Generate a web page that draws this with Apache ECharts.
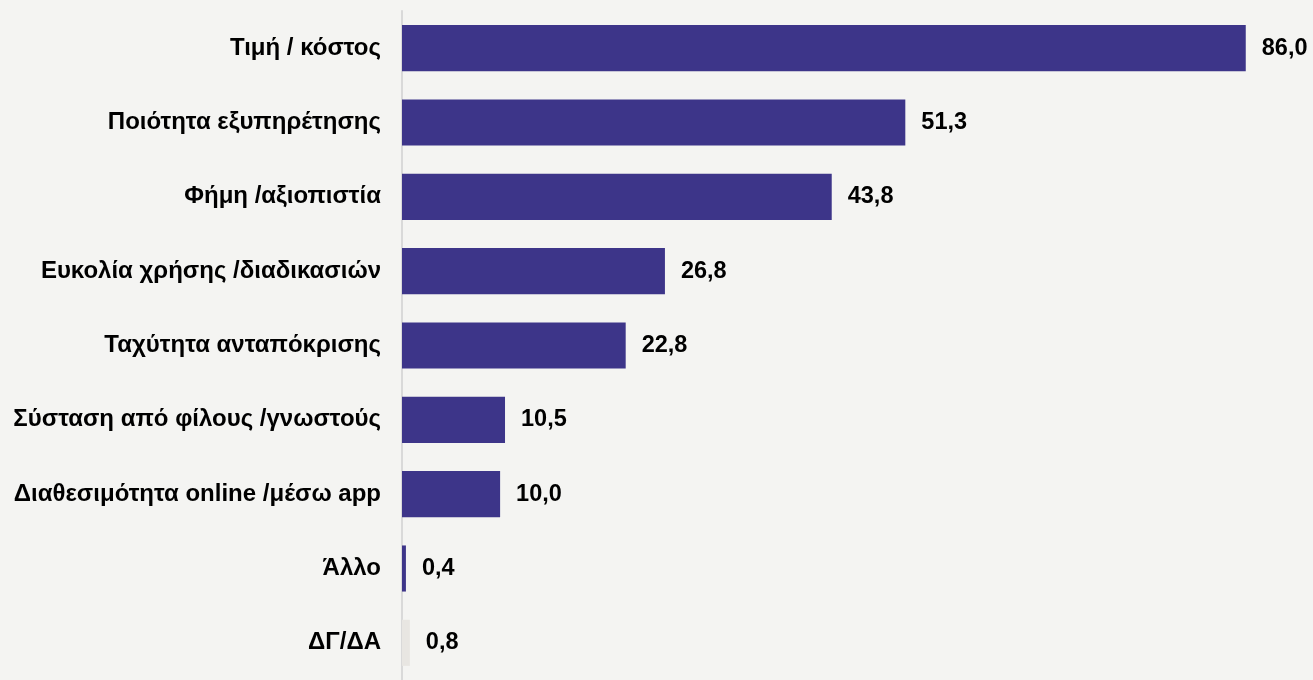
<!DOCTYPE html>
<html>
<head>
<meta charset="utf-8">
<script src="https://cdn.jsdelivr.net/npm/echarts@6/dist/echarts.min.js"></script>
<style>
html,body{margin:0;padding:0;background:#f4f4f2;}
#c{width:1313px;height:680px;}
</style>
</head>
<body>
<div id="c"></div>
<script>
const categories = ["Τιμή / κόστος","Ποιότητα εξυπηρέτησης","Φήμη /αξιοπιστία","Ευκολία χρήσης /διαδικασιών","Ταχύτητα ανταπόκρισης","Σύσταση από φίλους /γνωστούς","Διαθεσιμότητα online /μέσω app","Άλλο","ΔΓ/ΔΑ"];
const values = [86.0, 51.3, 43.8, 26.8, 22.8, 10.5, 10.0, 0.4, 0.8];
const barColors = ["#3d3589","#3d3589","#3d3589","#3d3589","#3d3589","#3d3589","#3d3589","#3d3589","#e8e6e2"];

const chart = echarts.init(document.getElementById('c'));
chart.setOption({
  backgroundColor: '#f4f4f2',
  animation: false,
  grid: {left: 402, right: 28, top: 11, height: 673, containLabel: false},
  xAxis: {type: 'value', min: 0, max: 90, show: false},
  yAxis: {
    type: 'category', data: categories, inverse: true,
    axisLine: {show: true, lineStyle: {color: '#d9d9d9', width: 2}},
    axisTick: {show: false},
    axisLabel: {margin: 21, color: '#000', fontWeight: 'bold', fontSize: 24, fontFamily: 'Liberation Sans, Arial, sans-serif'}
  },
  series: [{
    type: 'bar',
    data: values.map((v,i)=>({value:v, itemStyle:{color:barColors[i]}})),
    barCategoryGap: '38%',
    label: {
      show: true, position: 'right', distance: 16,
      color: '#000', fontWeight: 'bold', fontSize: 23.5, fontFamily: 'Liberation Sans, Arial, sans-serif',
      formatter: p => p.value.toFixed(1).replace('.', ',')
    }
  }]
});
</script>
</body>
</html>
